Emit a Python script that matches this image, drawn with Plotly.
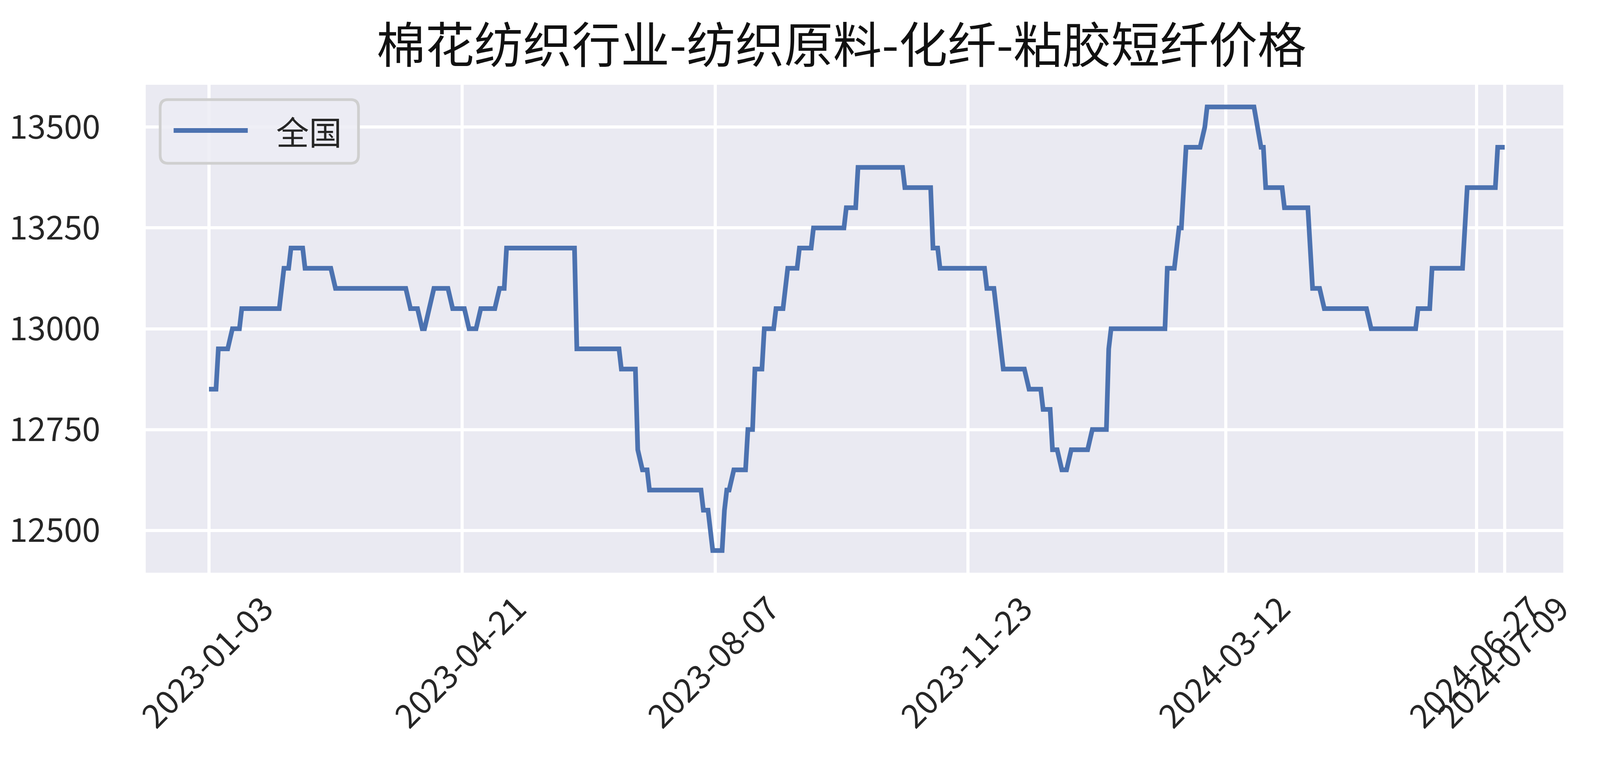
import plotly.graph_objects as go

# price plateaus: start date, end date, price
seg_start = [
    "2023-01-03", "2023-01-07", "2023-01-13", "2023-01-17", "2023-02-04", "2023-02-07",
    "2023-02-13", "2023-02-26", "2023-03-30", "2023-04-04", "2023-04-07", "2023-04-09",
    "2023-04-17", "2023-04-24", "2023-04-29", "2023-05-07", "2023-05-10", "2023-06-09",
    "2023-06-28", "2023-07-05", "2023-07-07", "2023-07-10", "2023-08-02", "2023-08-06",
    "2023-08-11", "2023-08-12", "2023-08-15", "2023-08-21", "2023-08-24", "2023-08-28",
    "2023-09-02", "2023-09-06", "2023-09-07", "2023-09-12", "2023-09-18", "2023-10-02",
    "2023-10-07", "2023-10-27", "2023-11-08", "2023-11-11", "2023-12-01", "2023-12-06",
    "2023-12-07", "2023-12-08", "2023-12-19", "2023-12-25", "2023-12-29", "2024-01-02",
    "2024-01-06", "2024-01-15", "2024-01-22", "2024-01-23", "2024-02-16", "2024-02-21",
    "2024-02-24", "2024-03-03", "2024-03-04", "2024-03-27", "2024-03-29", "2024-04-06",
    "2024-04-18", "2024-04-23", "2024-05-13", "2024-06-02", "2024-06-08", "2024-06-23",
    "2024-07-06",
]
seg_end = [
    "2023-01-06", "2023-01-11", "2023-01-16", "2023-02-02", "2023-02-06", "2023-02-12",
    "2023-02-24", "2023-03-28", "2023-04-02", "2023-04-05", "2023-04-07", "2023-04-15",
    "2023-04-22", "2023-04-27", "2023-05-05", "2023-05-09", "2023-06-08", "2023-06-27",
    "2023-07-04", "2023-07-05", "2023-07-09", "2023-08-01", "2023-08-04", "2023-08-10",
    "2023-08-11", "2023-08-13", "2023-08-20", "2023-08-23", "2023-08-27", "2023-09-01",
    "2023-09-05", "2023-09-06", "2023-09-11", "2023-09-17", "2023-10-01", "2023-10-06",
    "2023-10-26", "2023-11-07", "2023-11-10", "2023-11-30", "2023-12-04", "2023-12-06",
    "2023-12-07", "2023-12-17", "2023-12-24", "2023-12-28", "2023-12-31", "2024-01-04",
    "2024-01-13", "2024-01-21", "2024-01-22", "2024-02-15", "2024-02-19", "2024-02-22",
    "2024-03-01", "2024-03-03", "2024-03-24", "2024-03-28", "2024-04-05", "2024-04-16",
    "2024-04-21", "2024-05-11", "2024-06-01", "2024-06-07", "2024-06-21", "2024-07-05",
    "2024-07-09",
]
seg_price = [
    12850, 12950, 13000, 13050, 13150, 13200,
    13150, 13100, 13050, 13000, 13050, 13100,
    13050, 13000, 13050, 13100, 13200, 12950,
    12900, 12700, 12650, 12600, 12550, 12450,
    12550, 12600, 12650, 12750, 12900, 13000,
    13050, 13100, 13150, 13200, 13250, 13300,
    13400, 13350, 13200, 13150, 13100, 13000,
    12950, 12900, 12850, 12800, 12700, 12650,
    12700, 12750, 12950, 13000, 13150, 13250,
    13450, 13500, 13550, 13450, 13350, 13300,
    13100, 13050, 13000, 13050, 13150, 13350,
    13450,
]

tick_dates = ["2023-01-03", "2023-04-21", "2023-08-07", "2023-11-23",
              "2024-03-12", "2024-06-27", "2024-07-09"]
y_ticks = [12500, 12750, 13000, 13250, 13500]

title = "棉花纺织行业-纺织原料-化纤-粘胶短纤价格"
series_name = "全国"

xs, ys = [], []
for s, e, p in zip(seg_start, seg_end, seg_price):
    xs += [s, e]
    ys += [p, p]

line_color = "#4C72B0"
font_cjk = "Noto Sans CJK SC"

fig = go.Figure()
fig.add_trace(go.Scatter(x=xs, y=ys, mode="lines", name=series_name,
                         line=dict(color=line_color, width=12)))

# legend drawn by hand so the sample line is as long as in the original
lx0, lx1, ly0, ly1 = 0.0102, 0.1501, 0.8391, 0.9696
rx, ry = 0.0055, 0.017
box = (f"M{lx0+rx},{ly0} L{lx1-rx},{ly0} Q{lx1},{ly0} {lx1},{ly0+ry} "
       f"L{lx1},{ly1-ry} Q{lx1},{ly1} {lx1-rx},{ly1} L{lx0+rx},{ly1} "
       f"Q{lx0},{ly1} {lx0},{ly1-ry} L{lx0},{ly0+ry} Q{lx0},{ly0} {lx0+rx},{ly0} Z")
fig.add_shape(type="path", path=box, xref="paper", yref="paper",
              fillcolor="rgba(236,236,244,0.85)", line=dict(color="#CFCFCF", width=7))
fig.add_shape(type="line", xref="paper", yref="paper", x0=0.0197, x1=0.0720,
              y0=0.9063, y1=0.9063, line=dict(color=line_color, width=12))
fig.add_annotation(x=0.0916, y=0.9063, xref="paper", yref="paper", text=series_name,
                   showarrow=False, xanchor="left", yanchor="middle",
                   font=dict(family=font_cjk, size=84, color="#262626"))

fig.update_layout(
    autosize=True,
    margin=dict(l=373, r=94, t=217, b=523),
    paper_bgcolor="white",
    plot_bgcolor="#EAEAF2",
    showlegend=False,
    font=dict(family=font_cjk, size=84, color="#262626"),
    title=dict(text=title, x=0.4908, xref="paper", xanchor="center",
               y=0.941, yref="container", yanchor="middle",
               font=dict(family=font_cjk, size=125, color="#111111")),
)
fig.update_xaxes(
    type="date",
    range=["2022-12-07", "2024-08-03"],
    tickmode="array", tickvals=tick_dates, ticktext=tick_dates,
    tickangle=-45, ticklabelshift=140, ticklabelstandoff=25,
    showgrid=True, gridcolor="white", gridwidth=8,
    showline=False, zeroline=False, ticks="",
)
fig.update_yaxes(
    range=[12395, 13605],
    tickmode="array", tickvals=y_ticks, tickformat="d",
    ticklabelstandoff=115,
    showgrid=True, gridcolor="white", gridwidth=8,
    showline=False, zeroline=False, ticks="",
)

fig.write_html("out.html", default_width="100vw", default_height="100vh",
               config={"displayModeBar": False},
               post_script="document.body.style.margin='0';"
                           "document.body.style.overflow='hidden';")
